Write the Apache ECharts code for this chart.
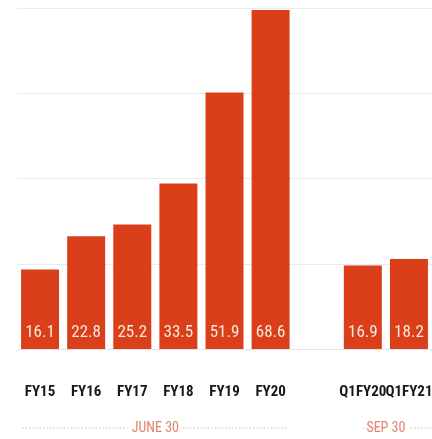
<!DOCTYPE html>
<html>
<head>
<meta charset="utf-8">
<script src="https://cdn.jsdelivr.net/npm/echarts@6/dist/echarts.min.js"></script>
<style>
  html, body { margin: 0; padding: 0; background: #ffffff; }
  #chart { width: 432px; height: 439px; }
</style>
</head>
<body>
<div id="chart"></div>
<script>
// Fiscal years (June 30) followed by a spacer and the two first quarters (Sep 30)
const categories = ['FY15', 'FY16', 'FY17', 'FY18', 'FY19', 'FY20', '', 'Q1FY20', 'Q1FY21'];
const values = [16.1, 22.8, 25.2, 33.5, 51.9, 68.6, null, 16.9, 18.2];
// Period groups shown under the axis: label plus first/last category index
const groupLabels = ['JUNE 30', 'SEP 30'];
const groupStart = [0, 7];
const groupEnd = [5, 8];

const narrow = '"Roboto Condensed", "Open Sans", sans-serif';
const barColor = '#da3f1a';
const noteColor = '#e3826f';

const chart = echarts.init(document.getElementById('chart'), null, { renderer: 'canvas' });

chart.setOption({
  animation: false,
  backgroundColor: '#ffffff',
  grid: { left: 17, right: 0, top: 8, bottom: 90, outerBoundsMode: 'none' },
  xAxis: {
    type: 'category',
    data: categories,
    axisLine: { show: true, lineStyle: { color: '#e4e4e4', width: 1 } },
    axisTick: { show: false },
    axisLabel: {
      interval: 0,
      margin: 36,
      fontFamily: narrow,
      fontWeight: 'bold',
      fontSize: 15,
      color: '#181818'
    }
  },
  yAxis: {
    type: 'value',
    min: 0,
    max: 69,
    interval: 17.25,
    axisLabel: { show: false },
    axisLine: { show: false },
    axisTick: { show: false },
    splitLine: { lineStyle: { color: '#ebebeb', width: 1 } }
  },
  series: [{
    type: 'bar',
    data: values,
    barWidth: 38,
    itemStyle: { color: barColor },
    label: {
      show: true,
      position: 'insideBottom',
      distance: 8,
      fontFamily: narrow,
      fontSize: 17,
      color: '#f6e8de',
      formatter: p => p.value.toFixed(1)
    }
  }]
});

// Dotted period rules with their date label, positioned from the category scale
const halfBand = 23;
const yNote = 428;
const graphics = [];
groupLabels.forEach((txt, i) => {
  const x0 = chart.convertToPixel({ xAxisIndex: 0 }, categories[groupStart[i]]) - halfBand;
  const x1 = chart.convertToPixel({ xAxisIndex: 0 }, categories[groupEnd[i]]) + halfBand;
  const mid = (x0 + x1) / 2;
  const halfText = txt.length * 2.7 + 2;
  const dash = { stroke: '#eaa392', lineWidth: 1.2, lineDash: [1.2, 2.3] };
  graphics.push({
    type: 'line', shape: { x1: x0 + (i === 0 ? 5 : 38), y1: yNote, x2: mid - halfText - 7, y2: yNote },
    style: dash, silent: true
  });
  graphics.push({
    type: 'line', shape: { x1: mid + halfText + 7, y1: yNote, x2: x1 - (i === 0 ? 6 : 0), y2: yNote },
    style: dash, silent: true
  });
  graphics.push({
    type: 'text', x: mid, y: yNote,
    style: {
      text: txt, fill: noteColor, font: '14px ' + narrow,
      align: 'center', verticalAlign: 'middle'
    },
    silent: true
  });
});
chart.setOption({ graphic: graphics });
</script>
</body>
</html>
